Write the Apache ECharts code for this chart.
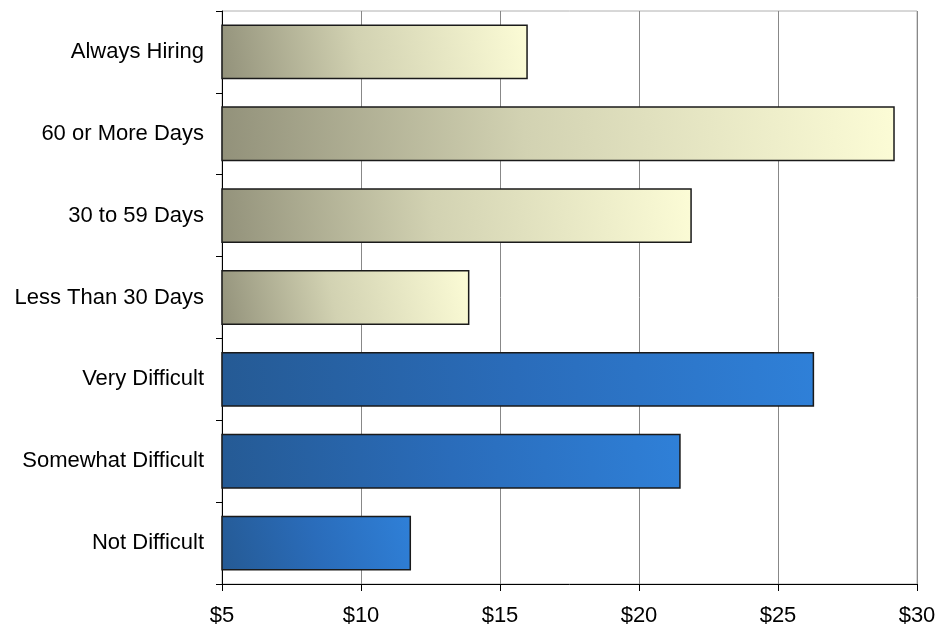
<!DOCTYPE html>
<html>
<head>
<meta charset="utf-8">
<script src="https://cdn.jsdelivr.net/npm/echarts@6/dist/echarts.min.js"></script>
<style>
html,body{margin:0;padding:0;background:#fff;}
#chart{width:940px;height:629px;}
</style>
</head>
<body>
<div id="chart"></div>
<script>
// Categories, top to bottom
var categories = ['Always Hiring', '60 or More Days', '30 to 59 Days', 'Less Than 30 Days', 'Very Difficult', 'Somewhat Difficult', 'Not Difficult'];
// Values (dollars)
var values = [16.0, 29.2, 21.9, 13.9, 26.3, 21.5, 11.8];
// Group of each bar
var groups = ['time', 'time', 'time', 'time', 'difficulty', 'difficulty', 'difficulty'];
// Tick labels on value axis
var xTicks = [5, 10, 15, 20, 25, 30];

var fills = {
  time: new echarts.graphic.LinearGradient(0, 1, 1, 0, [
    {offset: 0, color: '#92917a'},
    {offset: 0.45, color: '#d2d2b2'},
    {offset: 1, color: '#fcfcd6'}
  ]),
  difficulty: new echarts.graphic.LinearGradient(0, 1, 1, 0, [
    {offset: 0, color: '#255a94'},
    {offset: 0.5, color: '#2a6cba'},
    {offset: 1, color: '#2f80d8'}
  ])
};

var chart = echarts.init(document.getElementById('chart'), null, {renderer: 'canvas'});
chart.setOption({
  animation: false,
  backgroundColor: '#fff',
  grid: {left: 222, right: 23, top: 11, bottom: 45, show: true, borderColor: '#b0b0b0', borderWidth: 1, containLabel: false},
  xAxis: {
    type: 'value',
    min: xTicks[0],
    max: xTicks[xTicks.length - 1],
    interval: xTicks[1] - xTicks[0],
    axisLine: {show: true, onZero: false, lineStyle: {color: '#000', width: 1}},
    axisTick: {show: true, length: 7, lineStyle: {color: '#000'}},
    splitLine: {show: true, lineStyle: {color: '#888', width: 1}},
    axisLabel: {
      color: '#000', fontFamily: 'Liberation Sans, Arial, sans-serif', fontSize: 22, margin: 21,
      formatter: function (v) { return '$' + v; }
    }
  },
  yAxis: {
    type: 'category',
    inverse: true,
    data: categories,
    axisLine: {show: true, lineStyle: {color: '#000', width: 1}},
    axisTick: {show: true, length: 6, lineStyle: {color: '#000'}},
    splitLine: {show: false},
    axisLabel: {color: '#000', fontFamily: 'Liberation Sans, Arial, sans-serif', fontSize: 22, margin: 18}
  },
  series: [{
    type: 'bar',
    barCategoryGap: '33%',
    data: values.map(function (v, i) {
      return {value: v, itemStyle: {color: fills[groups[i]]}};
    }),
    itemStyle: {borderColor: '#1a1a1a', borderWidth: 1.5}
  }]
});
</script>
</body>
</html>
